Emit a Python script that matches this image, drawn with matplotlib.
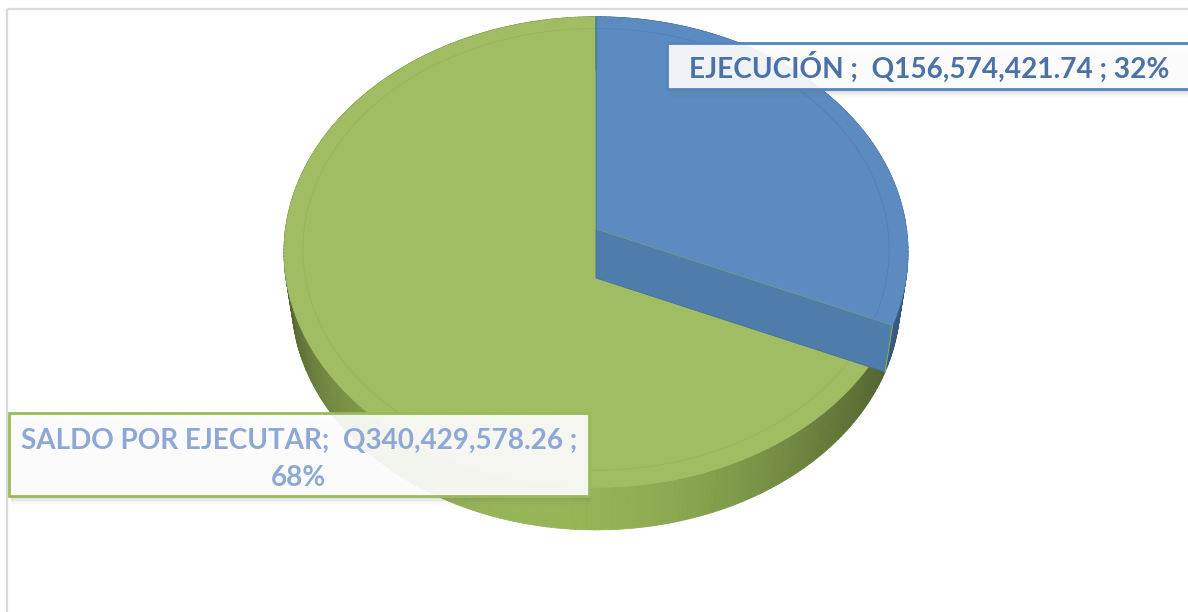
import numpy as np
import matplotlib
matplotlib.use("Agg")
import matplotlib.pyplot as plt
from matplotlib.patches import Polygon, Rectangle
from matplotlib.collections import PolyCollection
from matplotlib.colors import to_rgb

# ---------------- data ----------------
categories = ["EJECUCIÓN", "SALDO POR EJECUTAR"]
values = [156574421.74, 340429578.26]
value_labels = ["Q156,574,421.74", "Q340,429,578.26"]
percent_labels = ["32%", "68%"]
top_colors = ["#5B8BC1", "#A0BD63"]
side_colors = ["#4F7EB3", "#9BBB59"]
cut_colors = ["#4E7DAC", "#86A450"]
label_text_colors = ["#4A72A8", "#8EA8D6"]
label_edge_colors = ["#5584BE", "#9BBB59"]

# ---------------- layout ----------------
W, H = 1188, 612
fig = plt.figure(figsize=(W / 100, H / 100), dpi=100)
ax = fig.add_axes([0, 0, 1, 1])
ax.set_xlim(0, W)
ax.set_ylim(H, 0)
ax.axis("off")

# chart frame
ax.add_patch(Rectangle((7, 9), W + 20, H + 20, fill=False,
                       edgecolor="#D9D9D9", lw=1.6, zorder=0))

cx, cy = 596, 229
Rx, Ry = 310.5, 233.0
dpersp = 10.2
thick = 49.0
kbot = 0.975   # bottom plane farther from camera -> slightly smaller


def proj(t, r=1.0, bottom=False):
    u = r * np.sin(t)
    v = r * np.cos(t)
    s = dpersp / (dpersp + v)
    if bottom:
        return cx + Rx * kbot * u * s, cy + thick - Ry * kbot * v * s
    return cx + Rx * u * s, cy - Ry * v * s


total = float(sum(values))
fracs = [v / total for v in values]
bounds = np.concatenate([[0.0], np.cumsum(fracs)]) * 2 * np.pi


def shade(base, t):
    f = 0.5 + 0.47 * max(0.0, np.cos(t - np.deg2rad(190))) ** 2
    c = np.array(to_rgb(base)) * f
    return tuple(np.clip(c, 0, 1))


# green outer wall
ts = np.linspace(bounds[1], bounds[2], 300)
polys, cols = [], []
for t0, t1 in zip(ts[:-1], ts[1:]):
    polys.append([proj(t0), proj(t1), proj(t1, bottom=True), proj(t0, bottom=True)])
    cols.append(shade(side_colors[1], 0.5 * (t0 + t1)))
ax.add_collection(PolyCollection(polys, facecolors=cols, edgecolors=cols,
                                 linewidths=0.6, zorder=2))


def top_poly(i, r=1.0):
    ts = np.linspace(bounds[i], bounds[i + 1], 300)
    return [proj(0, 0.0)] + [proj(t, r) for t in ts]


# green top face
ax.add_patch(Polygon(top_poly(1), closed=True, facecolor=top_colors[1],
                     edgecolor=top_colors[1], lw=0.5, zorder=3))
ts = np.linspace(bounds[1], bounds[2], 300)
ax.plot(*zip(*[proj(t, 0.94) for t in ts]), color="#8FAC58", lw=0.7, alpha=0.45, zorder=3.2)

# blue outer wall
tb = bounds[1]
ts = np.linspace(bounds[0], bounds[1], 120)
polys, cols = [], []
for t0, t1 in zip(ts[:-1], ts[1:]):
    polys.append([proj(t0), proj(t1), proj(t1, bottom=True), proj(t0, bottom=True)])
    c = np.array(to_rgb(side_colors[0])) * (0.45 + 0.35 * max(0.0, np.cos(t0 - np.deg2rad(150))))
    cols.append(tuple(np.clip(c, 0, 1)))
ax.add_collection(PolyCollection(polys, facecolors=cols, edgecolors=cols,
                                 linewidths=0.6, zorder=4))

# blue cut face (visible radial face)
cut = [proj(0, 0.0), proj(tb), proj(tb, bottom=True), proj(0, 0.0, bottom=True)]
ax.add_patch(Polygon(cut, closed=True, facecolor=cut_colors[0], edgecolor="#46709C",
                     lw=0.6, zorder=4.5))
ax.plot([proj(tb)[0], proj(tb, bottom=True)[0]], [proj(tb)[1], proj(tb, bottom=True)[1]],
        color="#8CA955", lw=0.8, zorder=4.6)

# blue top face
ax.add_patch(Polygon(top_poly(0), closed=True, facecolor=top_colors[0],
                     edgecolor=top_colors[0], lw=0.5, zorder=5))
ts = np.linspace(bounds[0], bounds[1], 200)
ax.plot(*zip(*[proj(t, 0.94) for t in ts]), color="#4C7AB0", lw=0.7, alpha=0.55, zorder=5.2)
ax.plot([proj(0, 0.0)[0], proj(0)[0]], [proj(0, 0.0)[1], proj(0)[1]],
        color="#4F7C9E", lw=0.8, zorder=5.3)
ax.plot([proj(0, 0.0)[0], proj(tb)[0]], [proj(0, 0.0)[1], proj(tb)[1]],
        color="#8CA955", lw=0.6, alpha=0.5, zorder=5.3)


# ---------------- labels ----------------
def label_box(x0, y0, x1, y1, edge):
    for k, a in enumerate([0.10, 0.07, 0.05, 0.03, 0.02]):
        ax.add_patch(Rectangle((x0 + 2, y0 + 3 + k * 1.5), x1 - x0, y1 - y0,
                               facecolor="#808080", edgecolor="none", alpha=a, zorder=6))
    ax.add_patch(Rectangle((x0, y0), x1 - x0, y1 - y0, facecolor="white", alpha=0.9,
                           edgecolor="none", zorder=7))
    ax.add_patch(Rectangle((x0, y0), x1 - x0, y1 - y0, fill=False,
                           edgecolor=edge, lw=2.0, zorder=7.5))


label_box(667, 43, W + 10, 89, label_edge_colors[0])
label_box(9, 413, 589, 496, label_edge_colors[1])

font = ["Lato", "DejaVu Sans"]
t1 = ax.text(929, 67, f"{categories[0]} ;  {value_labels[0]} ; {percent_labels[0]}",
             ha="center", va="center", fontsize=20, fontweight="bold",
             color=label_text_colors[0], family=font, zorder=8)
t2 = ax.text(299, 441, f"{categories[1]};  {value_labels[1]} ;",
             ha="center", va="center", fontsize=20, fontweight="bold",
             color=label_text_colors[1], family=font, zorder=8)
t3 = ax.text(299, 478, percent_labels[1],
             ha="center", va="center", fontsize=20, fontweight="bold",
             color=label_text_colors[1], family=font, zorder=8)

fig.canvas.draw()
r = fig.canvas.get_renderer()
for t, target in [(t1, 480), (t2, 556)]:
    w = t.get_window_extent(r).width
    t.set_fontsize(20 * target / w)
t3.set_fontsize(t2.get_fontsize())

fig.savefig("out.png", dpi=100)
